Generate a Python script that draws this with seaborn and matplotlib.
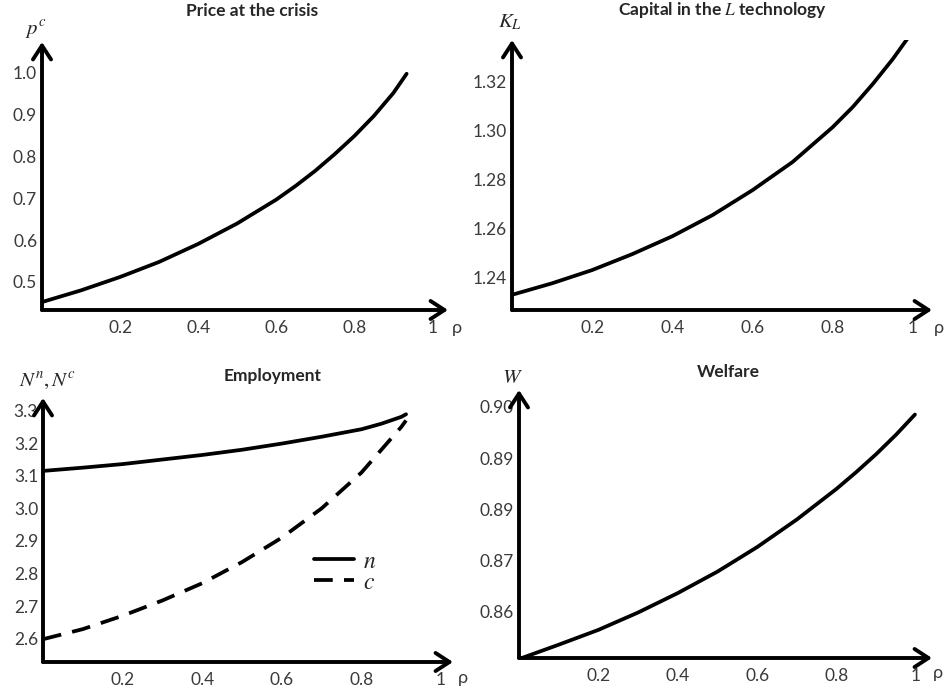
import numpy as np
import pandas as pd
import matplotlib.pyplot as plt
import seaborn as sns

# values
rho_price = [0.0, 0.1, 0.2, 0.3, 0.4, 0.5, 0.6, 0.65, 0.7, 0.75, 0.8, 0.85, 0.9, 0.934]
price = [0.452, 0.48, 0.512, 0.548, 0.591, 0.64, 0.697, 0.73, 0.766, 0.806, 0.849, 0.897, 0.952, 0.998]

rho_capital = [0.0, 0.1, 0.2, 0.3, 0.4, 0.5, 0.6, 0.7, 0.8, 0.85, 0.9, 0.95, 0.986]
capital = [1.233, 1.2377, 1.2431, 1.2496, 1.2569, 1.2655, 1.2757, 1.2872, 1.3014, 1.3096,
           1.319, 1.3292, 1.3374]

rho_emp = [0.0, 0.1, 0.2, 0.3, 0.4, 0.5, 0.6, 0.7, 0.8, 0.85, 0.9, 0.912]
emp_n = [3.115, 3.125, 3.136, 3.15, 3.164, 3.18, 3.199, 3.22, 3.243, 3.26, 3.281, 3.289]
emp_c = [2.598, 2.629, 2.67, 2.717, 2.77, 2.835, 2.91, 3.0, 3.11, 3.18, 3.25, 3.27]

rho_welfare = [0.0, 0.1, 0.2, 0.3, 0.4, 0.5, 0.6, 0.7, 0.8, 0.85, 0.9, 0.95, 0.997]
welfare = [0.8507, 0.8535, 0.8564, 0.8598, 0.8636, 0.8678, 0.8726, 0.878, 0.884, 0.8873,
           0.8908, 0.8946, 0.8985]
welfare_ticks = [0.86, 0.87, 0.88, 0.89, 0.90]
welfare_ticklabels = ['0.86', '0.87', '0.89', '0.89', '0.90']

sns.set_style('white')
plt.rcParams['font.family'] = ['Lato', 'DejaVu Sans']
plt.rcParams['mathtext.fontset'] = 'stix'

W, H = 947, 691
fig = plt.figure(figsize=(W / 100, H / 100), dpi=100)
TICK_COLOR = '#3a3a3a'


def make_axes(left, top, right, bottom):
    # pixel box -> figure fraction
    return fig.add_axes([left / W, 1 - bottom / H, (right - left) / W, (bottom - top) / H])


def arrow_axes(ax, title, title_xy, ylab, ylab_xy, rho_xy):
    for s in ax.spines.values():
        s.set_visible(False)
    kw = dict(arrowstyle='->,head_width=0.65,head_length=1.0', lw=2.8, color='black',
              shrinkA=0, shrinkB=0)
    ax.annotate('', xy=(1, 0), xytext=(0, 0), xycoords='axes fraction',
                arrowprops=kw, annotation_clip=False)
    ax.annotate('', xy=(0, 1), xytext=(0, 0), xycoords='axes fraction',
                arrowprops=kw, annotation_clip=False)
    ax.tick_params(direction='in', length=3, width=2, color='black',
                   labelsize=12.5, labelcolor=TICK_COLOR)
    ax.tick_params(axis='x', pad=7)
    ax.tick_params(axis='y', pad=3.5)
    ax.set_xticks([0.2, 0.4, 0.6, 0.8, 1.0])
    ax.set_xticklabels(['0.2', '0.4', '0.6', '0.8', '1'])
    ax.set_xlabel('')
    ax.set_ylabel('')
    fig.text(title_xy[0] / W, 1 - title_xy[1] / H, title, ha='center', va='center',
             fontsize=12.5, fontweight='bold')
    fig.text(ylab_xy[0] / W, 1 - ylab_xy[1] / H, ylab, ha='center', va='center', fontsize=15)
    fig.text(rho_xy[0] / W, 1 - rho_xy[1] / H, 'ρ', ha='center', va='center',
             fontsize=13, color=TICK_COLOR)


# Price at the crisis
ax1 = make_axes(42, 42, 448, 310)
sns.lineplot(x=rho_price, y=price, ax=ax1, color='black', lw=2.7)
ax1.set_xlim(0, 1.04)
ax1.set_ylim(0.433, 1.074)
ax1.set_yticks([0.5, 0.6, 0.7, 0.8, 0.9, 1.0])
ax1.set_yticklabels(['0.5', '0.6', '0.7', '0.8', '0.9', '1.0'])
arrow_axes(ax1, 'Price at the crisis', (252, 11), '$p^c$', (36, 30), (457, 328))

# Capital in the L technology
ax2 = make_axes(512, 40, 932, 310)
sns.lineplot(x=rho_capital, y=capital, ax=ax2, color='black', lw=2.7)
ax2.set_xlim(0, 1.048)
ax2.set_ylim(1.2268, 1.337)
ax2.set_yticks([1.24, 1.26, 1.28, 1.30, 1.32])
ax2.set_yticklabels(['1.24', '1.26', '1.28', '1.30', '1.32'])
arrow_axes(ax2, 'Capital in the $\\mathit{L}$ technology', (722, 10), '$K_L$', (510, 22), (939, 328))

# Employment
ax3 = make_axes(43, 398, 453, 662)
sns.lineplot(x=rho_emp, y=emp_n, ax=ax3, color='black', lw=2.7, label='$n$')
sns.lineplot(x=rho_emp, y=emp_c, ax=ax3, color='black', lw=2.7, label='$c$')
ax3.lines[-1].set_dashes((5, 3))
ax3.set_xlim(0, 1.03)
ax3.set_ylim(2.528, 3.339)
ax3.set_yticks([2.6, 2.7, 2.8, 2.9, 3.0, 3.1, 3.2, 3.3])
ax3.set_yticklabels(['2.6', '2.7', '2.8', '2.9', '3.0', '3.1', '3.2', '3.3'])
leg = ax3.legend(loc='center left', bbox_to_anchor=(0.608, 0.342), frameon=False,
                 handlelength=1.7, fontsize=17, labelspacing=0.0, handletextpad=0.4)
for h in leg.legend_handles:
    h.set_linewidth(2.7)
leg.legend_handles[1].set_dashes((5, 3))
arrow_axes(ax3, 'Employment', (273, 376), '$N^n, N^c$', (48, 381), (463, 678))

# Welfare
ax4 = make_axes(519, 390, 932, 658)
sns.lineplot(x=rho_welfare, y=welfare, ax=ax4, color='black', lw=2.7)
ax4.set_xlim(0, 1.04)
ax4.set_ylim(0.8509, 0.9033)
ax4.set_yticks(welfare_ticks)
ax4.set_yticklabels(welfare_ticklabels)
arrow_axes(ax4, 'Welfare', (728, 372), '$W$', (512, 377), (938, 673))

plt.savefig('out.png', dpi=100)
